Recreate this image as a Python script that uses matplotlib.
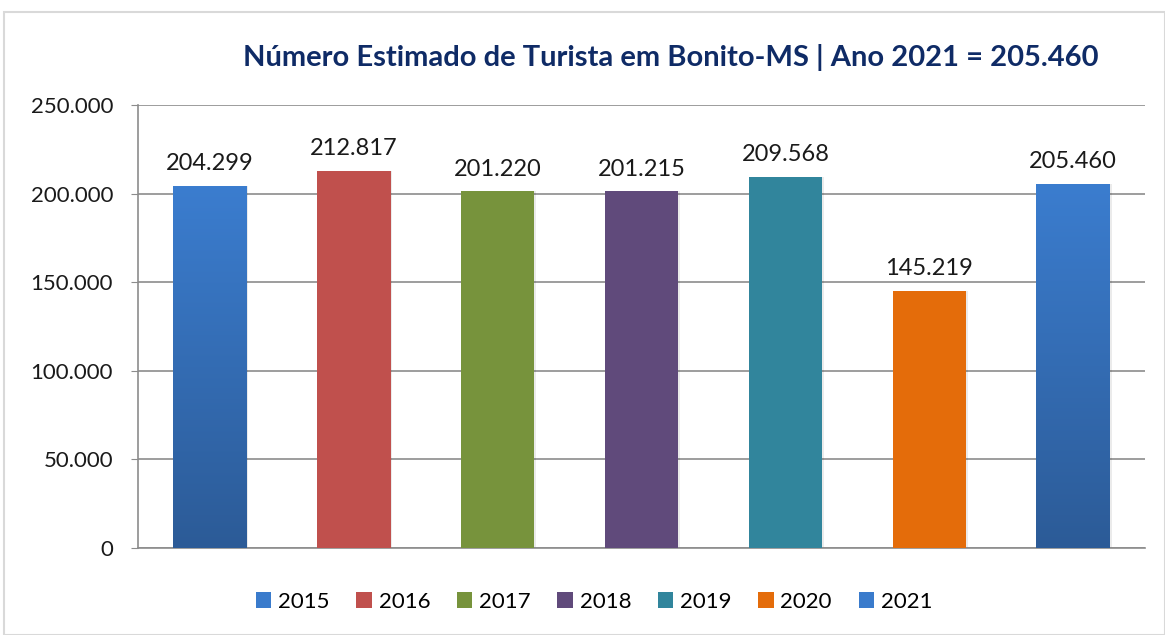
import numpy as np
import matplotlib.pyplot as plt
from matplotlib.patches import Rectangle
from matplotlib.ticker import FuncFormatter, MultipleLocator
from matplotlib.colors import LinearSegmentedColormap

plt.rcParams['font.family'] = ['Lato', 'DejaVu Sans']

# ----- dados -----
anos = ['2015', '2016', '2017', '2018', '2019', '2020', '2021']
turistas = [204299, 212817, 201220, 201215, 209568, 145219, 205460]
cores = ['#3a7bcc', '#c0504d', '#77933c', '#604a7b', '#31859c', '#e46c0a', '#3a7bcc']
gradiente = [True, False, False, False, False, False, True]
titulo = 'Número Estimado de Turista em Bonito-MS | Ano 2021 = 205.460'

fig = plt.figure(figsize=(11.65, 6.35), dpi=100)
ax = fig.add_axes([0.1185, 0.137, 0.8644, 0.6976])

# moldura externa
fig.patches.append(Rectangle((4 / 1165, 0), 1 - 4 / 1165, 1 - 12 / 635,
                             transform=fig.transFigure, fill=False,
                             edgecolor='#d9d9d9', linewidth=1.5))

x = np.arange(len(anos))
largura = 0.51
cmap_azul = LinearSegmentedColormap.from_list('azul', ['#2c5b97', '#3b7dcf'])

barras = ax.bar(x, turistas, width=largura, color=cores, zorder=3)
for b, g in zip(barras, gradiente):
    # sombra leve
    ax.add_patch(Rectangle((b.get_x() + 0.012, 0), b.get_width(), b.get_height(),
                           facecolor='#000000', alpha=0.08, zorder=2.5, linewidth=0))
    if g:
        grad = np.linspace(0, 1, 256).reshape(-1, 1)
        im = ax.imshow(grad, cmap=cmap_azul, aspect='auto', origin='lower',
                       extent=[b.get_x(), b.get_x() + b.get_width(), 0, b.get_height()],
                       zorder=3.5)
        im.set_clip_path(b)

for xi, v in zip(x, turistas):
    ax.text(xi, v + 6500, f'{v:,}'.replace(',', '.'), ha='center', va='bottom',
            fontsize=17, color='#1a1a1a', zorder=5)

ax.set_xlim(-0.5, len(anos) - 0.5)
ax.set_ylim(0, 250000)
ax.yaxis.set_major_locator(MultipleLocator(50000))
ax.yaxis.set_major_formatter(FuncFormatter(lambda v, p: f'{int(v):,}'.replace(',', '.')))
ax.grid(axis='y', color='#8c8c8c', linewidth=1.2, zorder=1)
ax.tick_params(axis='y', labelsize=16, length=5, color='#8c8c8c', pad=13, labelcolor='#1a1a1a')
ax.tick_params(axis='x', length=0, labelbottom=False)
for s in ['top', 'right']:
    ax.spines[s].set_visible(False)
ax.spines['left'].set_color('#8c8c8c')
ax.spines['bottom'].set_color('#8c8c8c')
ax.spines['left'].set_linewidth(1.2)
ax.spines['bottom'].set_linewidth(1.2)

fig.text(0.576, 0.91, titulo, ha='center', va='center', fontsize=21,
         fontweight='bold', color='#0f2b66')

handles = [Rectangle((0, 0), 1, 1, facecolor=c) for c in cores]
fig.legend(handles, anos, loc='center', bbox_to_anchor=(0.51, 0.052), ncol=7,
           frameon=False, fontsize=16, handlelength=0.7, handleheight=0.7,
           handletextpad=0.3, columnspacing=1.2)

fig.savefig('out.png', dpi=100)
